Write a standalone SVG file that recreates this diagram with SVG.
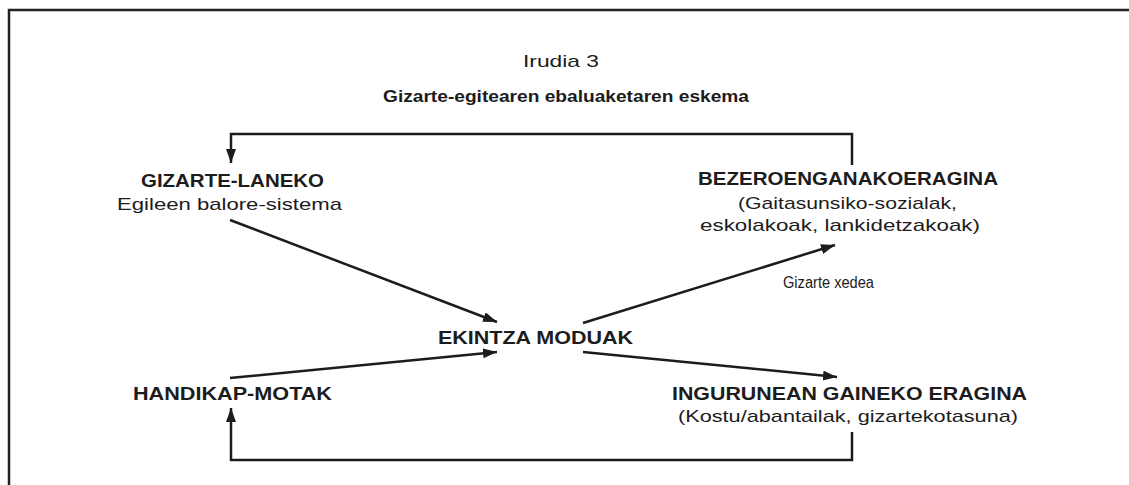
<svg xmlns="http://www.w3.org/2000/svg" width="1129" height="485" viewBox="0 0 1129 485">
<defs>
<style>
.t{font-family:"Liberation Sans",Arial,sans-serif;fill:#1c1c1c}
.b{font-weight:bold;font-size:18px}
.r{font-size:17px}
.c{fill:none;stroke:#1c1c1c;stroke-width:2.5}
.f{fill:none;stroke:#222;stroke-width:2.5}
</style>
<marker id="ah" markerUnits="userSpaceOnUse" markerWidth="16" markerHeight="12" refX="14" refY="5" orient="auto">
<path d="M0,0 L14,5 L0,10 Z" fill="#1c1c1c"/>
</marker>
</defs>
<rect width="1129" height="485" fill="#fff"/>
<g id="frame">
<path class="f" d="M9,485 V10 H1129"/>
</g>
<g id="title">
<text class="t" x="523" y="67" font-size="17" textLength="76" lengthAdjust="spacingAndGlyphs">Irudia 3</text>
<text class="t" x="383" y="102" font-size="16" font-weight="bold" textLength="366" lengthAdjust="spacingAndGlyphs">Gizarte-egitearen ebaluaketaren eskema</text>
</g>
<g id="connectors">
<polyline class="c" points="852,165 852,134 231,134 231,163" marker-end="url(#ah)"/>
<polyline class="c" points="852,432 852,460 231,460 231,408" marker-end="url(#ah)"/>
<line class="c" x1="230" y1="220" x2="497" y2="322" marker-end="url(#ah)"/>
<line class="c" x1="583" y1="323" x2="835" y2="245" marker-end="url(#ah)"/>
<line class="c" x1="230" y1="378" x2="497" y2="352" marker-end="url(#ah)"/>
<line class="c" x1="583" y1="352" x2="837" y2="377" marker-end="url(#ah)"/>
</g>
<g id="node-gizarte-laneko">
<text class="t b" x="141" y="187" textLength="183" lengthAdjust="spacingAndGlyphs">GIZARTE-LANEKO</text>
<text class="t r" x="117" y="210" textLength="225" lengthAdjust="spacingAndGlyphs">Egileen balore-sistema</text>
</g>
<g id="node-bezero">
<text class="t b" x="698" y="185" textLength="300" lengthAdjust="spacingAndGlyphs">BEZEROENGANAKOERAGINA</text>
<text class="t r" x="738" y="209" textLength="219" lengthAdjust="spacingAndGlyphs">(Gaitasunsiko-sozialak,</text>
<text class="t r" x="700" y="231" textLength="280" lengthAdjust="spacingAndGlyphs">eskolakoak, lankidetzakoak)</text>
</g>
<g id="label-xedea">
<text class="t" x="783" y="288" font-size="16" textLength="91" lengthAdjust="spacingAndGlyphs">Gizarte xedea</text>
</g>
<g id="node-ekintza">
<text class="t b" x="438" y="344" textLength="195" lengthAdjust="spacingAndGlyphs">EKINTZA MODUAK</text>
</g>
<g id="node-handikap">
<text class="t b" x="133" y="400" textLength="199" lengthAdjust="spacingAndGlyphs">HANDIKAP-MOTAK</text>
</g>
<g id="node-ingurunean">
<text class="t b" x="672" y="400" textLength="355" lengthAdjust="spacingAndGlyphs">INGURUNEAN GAINEKO ERAGINA</text>
<text class="t r" x="678" y="422" textLength="340" lengthAdjust="spacingAndGlyphs">(Kostu/abantailak, gizartekotasuna)</text>
</g>
</svg>
